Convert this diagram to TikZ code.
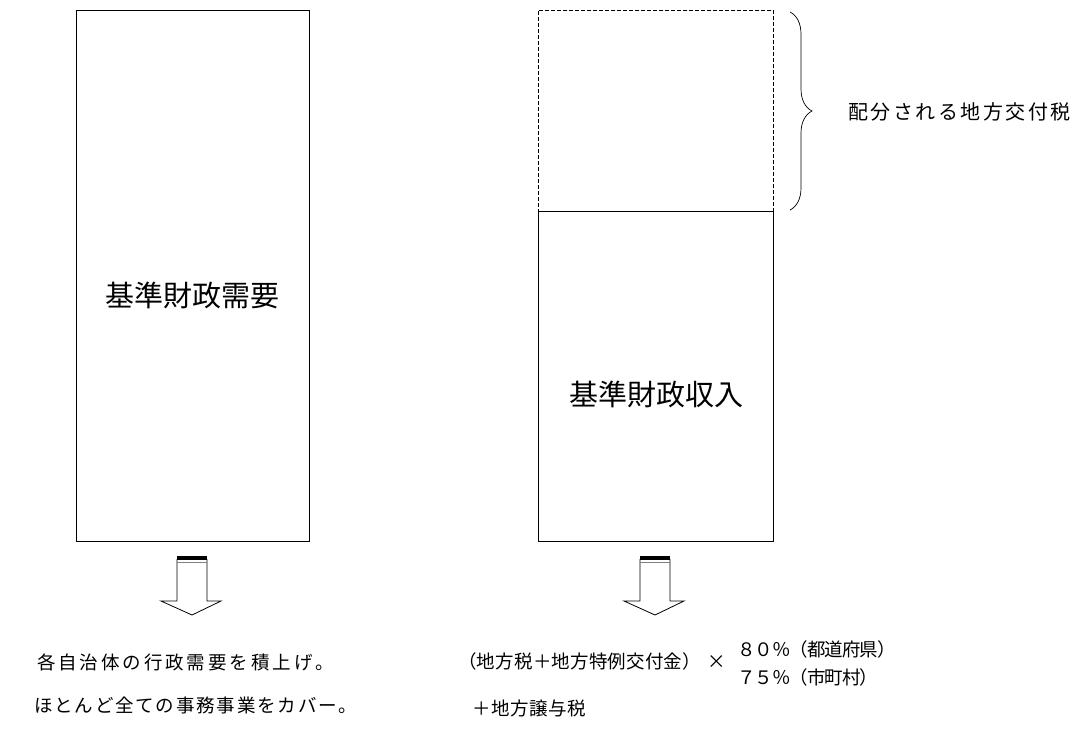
\documentclass[tikz,border=0pt]{standalone}
\usepackage{fontspec}
\newfontfamily\cjk{Noto Sans CJK JP}
\usetikzlibrary{decorations.pathreplacing}
\def\trkloop#1{\ifx#1\relax\else#1\kern\trkamt\expandafter\trkloop\fi}
\newcommand\trk[2]{\def\trkamt{#1}\trkloop#2\relax}
\tikzset{
  box/.style={draw, line width=0.9pt, minimum width=#1, inner sep=0pt, anchor=north west},
  bigtext/.style={font=\cjk\fontsize{29}{31}\selectfont, inner sep=0pt},
  smalltext/.style={font=\cjk\fontsize{18.5}{20}\selectfont, inner sep=0pt, anchor=west},
  blockarrow/.pic={
    \draw[line width=0.8pt, line join=miter] (-15,2) -- (-15,44) -- (-31,44) -- (0,58) -- (29,44) -- (15,44) -- (15,2);
    \fill (-15,-1) rectangle (15,3);
    \draw[gray, line width=0.6pt] (-15,5) -- (15,5);
  }
}
\begin{document}
\begin{tikzpicture}[x=1pt, y=-1pt]
\useasboundingbox (0,0) rectangle (1086,729);
% left box
\node[box=233pt, minimum height=531pt] (need) at (76,10) {};
\node[bigtext] (needlabel) at (192,295) {基準財政需要};
% right boxes
\node[box=235pt, minimum height=330pt] (rev) at (538,211) {};
\node[box=235pt, minimum height=201pt, dash pattern=on 4pt off 2pt, draw=black] (grant) at (538,10) {};
\node[bigtext] (revlabel) at (656,394) {基準財政収入};
% brace
\coordinate (bt) at (790,12);
\coordinate (bb) at (790,210);
\draw[line width=0.7pt, decorate, decoration={brace, amplitude=22pt}] (bt) -- (bb);
\node[smalltext, font=\cjk\fontsize{20}{22}\selectfont] (grantlabel) at (848,112) {\trk{2.5pt}{配分される地方交付税}};
% arrows
\pic at (192,557) {blockarrow};
\pic at (655,557) {blockarrow};
% bottom texts
\node[smalltext] (l1) at (37,662) {\trk{2.9pt}{各自治体の行政需要を積上げ。}};
\node[smalltext] (l2) at (34,705) {\trk{1.8pt}{ほとんど全ての事務事業をカバー。}};
\node[smalltext] (r1) at (458,661) {\trk{0.2pt}{（地方税＋地方特例交付金）}};
\node[smalltext] (times) at (707,662) {×};
\node[smalltext] (r2) at (737,649) {\trk{-1pt}{８０％（都道府県）}};
\node[smalltext] (r3) at (737,677) {\trk{-1pt}{７５％（市町村）}};
\node[smalltext] (r4) at (472,708) {\trk{0.5pt}{＋地方譲与税}};
\end{tikzpicture}
\end{document}
